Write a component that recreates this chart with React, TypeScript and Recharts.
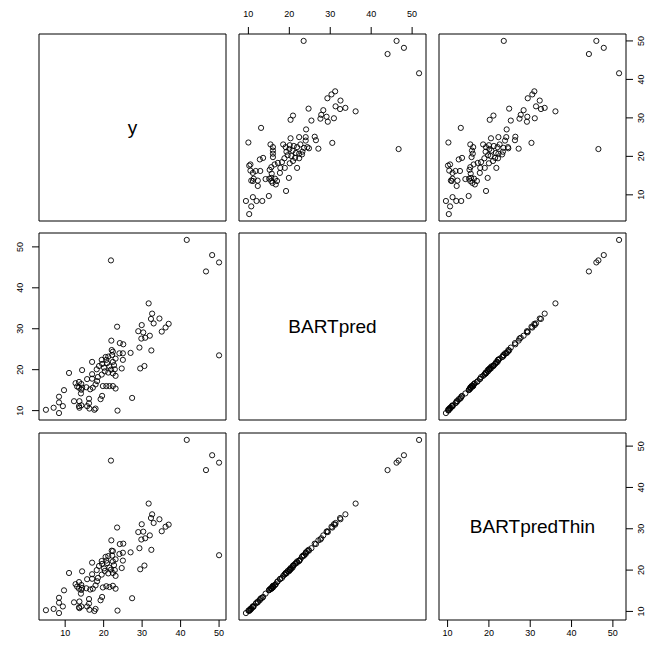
import React from 'react';
import { ScatterChart, Scatter, XAxis, YAxis, ReferenceArea } from 'recharts';

const varNames = ['y', 'BARTpred', 'BARTpredThin'];
const tickValues = [10, 20, 30, 40, 50];

const yVals = [
  50.0, 46.6, 50.0, 48.2, 41.6, 36.9, 35.1, 36.1, 34.5, 33.0,
  32.3, 32.6, 32.0, 32.4, 30.8, 30.3, 29.8, 29.9, 29.0, 31.7,
  30.6, 29.5, 29.3, 27.4, 27.0, 25.0, 25.0, 24.1, 25.1, 24.2,
  24.7, 23.5, 22.0, 21.9, 23.6, 23.1, 22.4, 21.5, 20.7, 19.8,
  23.1, 22.4, 22.9, 22.7, 22.4, 23.1, 22.2, 22.4, 22.1, 21.2,
  20.7, 20.9, 21.5, 21.9, 21.2, 20.3, 20.1, 19.6, 19.5, 20.5,
  18.8, 18.2, 19.5, 18.5, 18.3, 17.9, 17.0, 17.0, 17.0, 14.4,
  15.7, 17.2, 16.5, 15.5, 14.4, 13.6, 13.1, 12.7, 13.6, 14.2,
  14.2, 14.1, 16.2, 19.2, 19.6, 17.9, 17.6, 16.3, 15.7, 16.2,
  14.2, 13.7, 13.6, 13.7, 12.3, 11.0, 9.7, 8.4, 9.4, 8.4,
  8.4, 7.0, 5.0,
];

const bartPred = [
  23.5, 44.0, 46.2, 48.0, 51.7, 31.2, 29.3, 30.3, 32.5, 31.3,
  32.4, 33.7, 28.3, 24.7, 27.8, 29.1, 27.6, 30.9, 29.4, 36.2,
  20.9, 20.3, 25.4, 13.1, 24.1, 22.4, 24.0, 24.0, 26.2, 26.5,
  20.3, 30.5, 27.1, 46.7, 10.0, 15.4, 16.0, 16.0, 16.0, 16.0,
  18.5, 19.1, 20.1, 21.1, 21.9, 22.7, 23.6, 24.4, 24.8, 23.2,
  22.4, 21.6, 20.8, 20.0, 19.3, 19.6, 20.5, 21.4, 22.4, 23.1,
  20.9, 20.1, 18.8, 18.2, 17.2, 16.4, 17.8, 18.9, 21.9, 19.9,
  17.7, 15.6, 15.2, 15.7, 15.6, 15.6, 15.9, 16.7, 17.0, 16.5,
  15.1, 14.2, 12.9, 12.8, 13.6, 10.5, 10.2, 10.5, 11.1, 11.8,
  11.3, 10.7, 11.1, 12.3, 12.3, 19.2, 15.0, 9.4, 11.1, 12.0,
  13.4, 10.7, 10.2,
];

const bartPredThin = [
  23.6, 44.2, 46.0, 47.8, 51.5, 31.0, 29.4, 30.5, 32.3, 31.4,
  32.6, 33.5, 28.4, 24.9, 27.7, 29.3, 27.4, 31.1, 29.2, 36.1,
  21.1, 20.2, 25.3, 13.2, 24.3, 22.3, 24.2, 23.9, 26.4, 26.3,
  20.5, 30.3, 27.2, 46.5, 10.2, 15.5, 16.2, 15.9, 16.1, 15.8,
  18.6, 19.3, 20.0, 21.2, 22.1, 22.6, 23.5, 24.6, 24.7, 23.4,
  22.3, 21.7, 20.6, 20.1, 19.2, 19.8, 20.4, 21.5, 22.2, 23.2,
  21.0, 20.0, 18.9, 18.1, 17.3, 16.3, 17.9, 19.0, 21.8, 19.7,
  17.8, 15.5, 15.3, 15.6, 15.7, 15.5, 16.0, 16.6, 17.1, 16.4,
  15.2, 14.3, 13.0, 12.7, 13.5, 10.6, 10.1, 10.4, 11.2, 11.9,
  11.2, 10.8, 11.0, 12.4, 12.2, 19.3, 15.1, 9.6, 11.2, 12.1,
  13.3, 10.6, 10.3,
];

const vars = [yVals, bartPred, bartPredThin];

const FONT = '"Liberation Sans", Arial, Helvetica, sans-serif';
const PANEL = 187;
const COL_X = [39, 239, 439];
const ROW_Y = [34, 233, 433];
const M = 30;

function domainOf(arr: number[]): [number, number] {
  const mn = Math.min(...arr);
  const mx = Math.max(...arr);
  const pad = (mx - mn) * 0.04;
  return [mn - pad, mx + pad];
}

const XTick = (props: any) => {
  const { x, y, payload } = props;
  return (
    <text x={x} y={y} textAnchor="middle" dominantBaseline="central" fontSize={9} fill="#000" fontFamily={FONT}>
      {payload.value}
    </text>
  );
};

const YTick = (props: any) => {
  const { x, y, payload } = props;
  return (
    <text
      x={x}
      y={y}
      transform={`rotate(-90 ${x} ${y})`}
      textAnchor="middle"
      dominantBaseline="central"
      fontSize={9}
      fill="#000"
      fontFamily={FONT}
    >
      {payload.value}
    </text>
  );
};

const Dot = (props: any) => {
  const { cx, cy } = props;
  if (cx == null || cy == null) return null;
  return <circle cx={cx} cy={cy} r={2.6} fill="none" stroke="#000" strokeWidth={0.9} />;
};

function Panel({ i, j }: { i: number; j: number }) {
  const xDom = domainOf(vars[j]);
  const yDom = domainOf(vars[i]);
  const showTop = i === 0 && j % 2 === 1;
  const showBottom = i === 2 && j % 2 === 0;
  const showLeft = j === 0 && i % 2 === 1;
  const showRight = j === 2 && i % 2 === 0;
  const diag = i === j;
  const data = diag ? [] : yVals.map((_, k) => ({ x: vars[j][k], y: vars[i][k] }));

  const margin = {
    top: showTop ? 0 : M,
    bottom: showBottom ? 0 : M,
    left: showLeft ? 0 : M,
    right: showRight ? 0 : M,
  };

  return (
    <div style={{ position: 'absolute', left: COL_X[j] - M, top: ROW_Y[i] - M }}>
      <ScatterChart width={PANEL + 2 * M} height={PANEL + 2 * M} margin={margin}>
        <XAxis
          type="number"
          dataKey="x"
          domain={xDom}
          allowDataOverflow
          ticks={tickValues}
          interval={0}
          orientation={showTop ? 'top' : 'bottom'}
          hide={!(showTop || showBottom)}
          height={M}
          axisLine={false}
          tickLine={{ stroke: '#000', strokeWidth: 1 }}
          stroke="#000"
          tickSize={7}
          tickMargin={showTop ? 13 : 6}
          tick={<XTick />}
        />
        <YAxis
          type="number"
          dataKey="y"
          domain={yDom}
          allowDataOverflow
          ticks={tickValues}
          interval={0}
          orientation={showLeft ? 'left' : 'right'}
          hide={!(showLeft || showRight)}
          width={M}
          axisLine={false}
          tickLine={{ stroke: '#000', strokeWidth: 1 }}
          stroke="#000"
          tickSize={7}
          tickMargin={showLeft ? 12 : 8}
          tick={<YTick />}
        />
        <ReferenceArea
          x1={xDom[0]}
          x2={xDom[1]}
          y1={yDom[0]}
          y2={yDom[1]}
          fill="none"
          fillOpacity={0}
          stroke="#000"
          strokeWidth={1}
          ifOverflow="visible"
          label={
            diag
              ? { value: varNames[i], position: 'center', fontSize: 19, fill: '#000', fontFamily: FONT }
              : undefined
          }
        />
        {!diag && <Scatter data={data} shape={<Dot />} isAnimationActive={false} />}
      </ScatterChart>
    </div>
  );
}

export default function App() {
  const panels = [];
  for (let i = 0; i < 3; i++) {
    for (let j = 0; j < 3; j++) {
      panels.push(<Panel key={`${i}-${j}`} i={i} j={j} />);
    }
  }
  return (
    <div
      style={{
        position: 'absolute',
        left: 0,
        top: 0,
        width: 646,
        height: 646,
        overflow: 'hidden',
        background: '#fff',
        fontFamily: FONT,
      }}
    >
      {panels}
    </div>
  );
}
